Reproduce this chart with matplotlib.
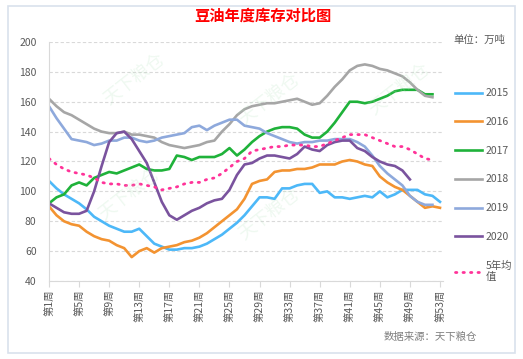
import matplotlib
matplotlib.use("Agg")
import matplotlib.pyplot as plt
from matplotlib.patches import Rectangle

plt.rcParams['font.family'] = ['Noto Sans CJK SC', 'DejaVu Sans']

# weekly soybean-oil stocks (10k tonnes)
s2015 = [107, 102, 98, 95, 92, 88, 83, 80, 77, 75, 73, 73, 75, 70, 65, 63, 61, 61, 62, 62,
         63, 65, 68, 71, 75, 79, 84, 90, 96, 96, 95, 102, 102, 104, 105, 105, 99, 100, 96, 96,
         95, 96, 97, 96, 100, 96, 98, 101, 101, 101, 98, 97, 93]
s2016 = [90, 84, 80, 78, 77, 73, 70, 68, 67, 64, 62, 56, 60, 62, 59, 62, 63, 64, 66, 67,
         69, 72, 76, 80, 84, 88, 95, 105, 107, 108, 113, 114, 114, 115, 115, 116, 118, 118, 118, 120,
         121, 120, 118, 117, 110, 106, 103, 101, 97, 93, 89, 90, 89]
s2017 = [92, 96, 98, 104, 106, 104, 109, 111, 113, 112, 114, 116, 118, 115, 114, 114, 115, 124, 123, 121,
         123, 123, 123, 125, 129, 124, 128, 133, 137, 140, 142, 143, 143, 142, 138, 136, 136, 140, 146, 153,
         160, 160, 159, 160, 162, 164, 167, 168, 168, 168, 165, 165]
s2018 = [162, 157, 153, 151, 148, 145, 142, 140, 139, 139, 140, 138, 138, 137, 136, 133, 131, 130, 129, 130,
         131, 133, 134, 140, 145, 151, 155, 157, 158, 159, 159, 160, 161, 162, 160, 158, 159, 164, 170, 175,
         181, 184, 185, 184, 182, 181, 179, 177, 173, 168, 164, 163]
s2019 = [157, 149, 142, 135, 134, 133, 131, 132, 134, 134, 136, 136, 134, 133, 134, 136, 137, 138, 139, 143,
         144, 141, 144, 146, 148, 148, 144, 143, 142, 139, 137, 135, 133, 132, 133, 133, 134, 134, 135, 135,
         135, 133, 130, 124, 117, 112, 108, 104, 97, 93, 91, 91]
s2020 = [92, 89, 86, 85, 85, 87, 100, 117, 133, 139, 140, 135, 127, 119, 106, 93, 84, 81, 84, 87,
         89, 92, 94, 95, 101, 111, 118, 119, 122, 124, 124, 123, 122, 125, 130, 128, 127, 131, 133, 134,
         134, 129, 127, 123, 120, 118, 117, 114, 108]
avg5 = [122, 118, 115, 113, 112, 111, 109, 106, 105, 105, 104, 104, 105, 104, 103, 101, 102, 103, 105, 106,
        106, 108, 109, 112, 116, 120, 122, 127, 128, 129, 130, 130, 131, 131, 131, 130, 130, 132, 134, 136,
        138, 138, 138, 136, 134, 132, 130, 130, 128, 125, 122, 121]

series = [
    ("2015", s2015, "#4DB8F8", "-"),
    ("2016", s2016, "#F39331", "-"),
    ("2017", s2017, "#1FB23A", "-"),
    ("2018", s2018, "#A6A6A6", "-"),
    ("2019", s2019, "#8EA9DC", "-"),
    ("2020", s2020, "#7A539E", "-"),
    ("5年均\n值", avg5, "#FF3399", ":"),
]
tick_weeks = list(range(1, 54, 4))
tick_labels = [f"第{w}周" for w in tick_weeks]

W, H = 523, 359
fig = plt.figure(figsize=(W / 100, H / 100), dpi=100)
fig.patch.set_facecolor("white")

# faint outer frame of the chart box
fig.patches.append(Rectangle((8 / W, 6 / H), 507 / W, 347 / H, transform=fig.transFigure,
                             fill=False, edgecolor="#D9E1EC", lw=1.2))

ax = fig.add_axes([49 / W, 1 - 281 / H, (443 - 49) / W, (281 - 42) / H])

lines = []
for name, vals, color, ls in series:
    weeks = list(range(1, len(vals) + 1))
    if ls == ":":
        ln, = ax.plot(weeks, vals, color=color, lw=2.0, linestyle=(0, (0.5, 2.2)),
                      dash_capstyle="round", label=name)
    else:
        ln, = ax.plot(weeks, vals, color=color, lw=1.9, solid_joinstyle="round", label=name)
    lines.append(ln)

ax.set_xlim(1, 53.4)
ax.set_ylim(40, 200)
ax.set_yticks(range(40, 201, 20))
ax.yaxis.grid(True, color="#D9D9D9", linestyle=(0, (3, 2)), lw=0.8)
ax.set_axisbelow(True)
ax.set_xticks(tick_weeks)
ax.set_xticklabels(tick_labels, rotation=90, fontsize=7.5, color="#595959")
ax.tick_params(axis="y", labelsize=7.5, colors="#595959", length=0, pad=9)
ax.tick_params(axis="x", length=4, color="#D9D9D9", pad=2)
for side in ["top", "right"]:
    ax.spines[side].set_visible(False)
for side in ["left", "bottom"]:
    ax.spines[side].set_color("#D9D9D9")

# faint watermarks
for (x, y) in [(135, 80), (130, 195), (270, 100), (270, 215), (400, 90)]:
    fig.text(x / W, 1 - y / H, "天下粮仓", fontsize=13, color="#B5E3BE", alpha=0.22,
             rotation=38, ha="center", va="center")

fig.text(263 / W, 1 - 16 / H, "豆油年度库存对比图", color="#FF0000", fontsize=11,
         fontweight="bold", ha="center", va="center")
fig.text(479 / W, 1 - 40 / H, "单位：万吨", color="#595959", fontsize=7.5, ha="center", va="center")

leg = fig.legend(handles=lines, loc="upper left", bbox_to_anchor=(450 / W, 1 - 83 / H),
                 frameon=False, fontsize=7.5, handlelength=2.6, labelspacing=1.8,
                 handletextpad=0.3, borderpad=0)
for t in leg.get_texts():
    t.set_color("#595959")

fig.text(430 / W, 1 - 337 / H, "数据来源：天下粮仓", color="#7F7F7F", fontsize=7.5,
         style="italic", ha="center", va="center")

fig.savefig("out.png", dpi=100)
